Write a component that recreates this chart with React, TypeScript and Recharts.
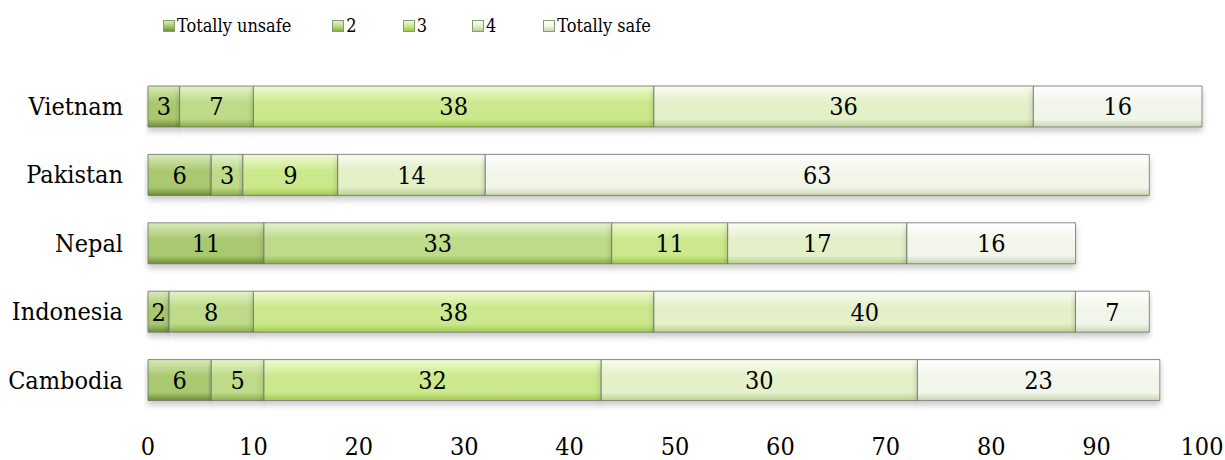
import React from "react";
import { BarChart, Bar, XAxis, YAxis, LabelList, Rectangle } from "recharts";

const countries = ["Vietnam", "Pakistan", "Nepal", "Indonesia", "Cambodia"];
const totallyUnsafe = [3, 6, 11, 2, 6];
const level2 = [7, 3, 33, 8, 5];
const level3 = [38, 9, 11, 38, 32];
const level4 = [36, 14, 17, 40, 30];
const totallySafe = [16, 63, 16, 7, 23];
const xTicks = [0, 10, 20, 30, 40, 50, 60, 70, 80, 90, 100];

const seriesNames = ["Totally unsafe", "2", "3", "4", "Totally safe"];

const FONT = "'DejaVu Serif Condensed', 'Liberation Serif', serif";

// vertical gradient stops per series: top, middle, bottom
const palette = [
  ["#d9eab8", "#a9c870", "#6c8e34"],
  ["#e4f2c8", "#bddb88", "#8cae4a"],
  ["#f0fad2", "#cbe98c", "#a0ca50"],
  ["#f8fcf0", "#e3f0c8", "#b9d190"],
  ["#ffffff", "#f2f6ea", "#c8d6b2"],
];

const legendGap = [41, 46, 45, 47, 0];

const data = countries.map((name, i) => ({
  name,
  s0: totallyUnsafe[i],
  s1: level2[i],
  s2: level3[i],
  s3: level4[i],
  s4: totallySafe[i],
}));

const ShadowRect = (props: any) => (
  <Rectangle {...props} filter="url(#barShadow)" />
);

function LegendRow() {
  return (
    <div
      style={{
        position: "absolute",
        left: 163,
        top: 15,
        display: "flex",
        fontFamily: FONT,
        fontSize: 18,
        color: "#000",
        lineHeight: "22px",
      }}
    >
      {seriesNames.map((n, i) => (
        <div
          key={n}
          style={{ display: "flex", alignItems: "center", marginRight: legendGap[i] }}
        >
          <span
            style={{
              display: "inline-block",
              width: 10,
              height: 10,
              marginRight: 2,
              border: "1px solid #8a9a70",
              background: `linear-gradient(${palette[i][0]}, ${palette[i][1]} 50%, ${palette[i][2]})`,
            }}
          />
          {n}
        </div>
      ))}
    </div>
  );
}

export default function App() {
  return (
    <div style={{ position: "absolute", left: 0, top: 0, width: 1225, height: 460, background: "#fff" }}>
      <LegendRow />
      <BarChart
        width={1225}
        height={460}
        data={data}
        layout="vertical"
        margin={{ top: 72, right: 23, bottom: 0, left: 0 }}
        barSize={41}
      >
        <defs>
          {palette.map((p, i) => (
            <linearGradient key={i} id={`g${i}`} x1="0" y1="0" x2="0" y2="1">
              <stop offset="0%" stopColor={p[0]} />
              <stop offset="40%" stopColor={p[1]} />
              <stop offset="80%" stopColor={p[1]} />
              <stop offset="100%" stopColor={p[2]} />
            </linearGradient>
          ))}
          <filter id="barShadow" x="-5%" y="-20%" width="110%" height="160%">
            <feDropShadow dx="0" dy="4" stdDeviation="3" floodColor="#000" floodOpacity="0.22" />
          </filter>
        </defs>
        <XAxis
          type="number"
          domain={[0, 100]}
          ticks={xTicks}
          axisLine={false}
          tickLine={false}
          tickSize={0}
          tickMargin={23}
          height={46}
          interval={0}
          tick={{ fontSize: 25, fill: "#000", fontFamily: FONT }}
        />
        <YAxis
          type="category"
          dataKey="name"
          width={148}
          axisLine={false}
          tickLine={false}
          tickSize={0}
          tickMargin={25}
          tick={{ fontSize: 25, fill: "#000", fontFamily: FONT }}
        />
        {seriesNames.map((n, i) => (
          <Bar
            key={n}
            dataKey={`s${i}`}
            name={n}
            stackId="a"
            fill={`url(#g${i})`}
            stroke="#6f6f6f"
            strokeOpacity={0.8}
            strokeWidth={1}
            shape={ShadowRect}
            isAnimationActive={false}
          >
            <LabelList
              dataKey={`s${i}`}
              position="center"
              fill="#000"
              fontSize={25}
              fontFamily={FONT}
            />
          </Bar>
        ))}
      </BarChart>
    </div>
  );
}
